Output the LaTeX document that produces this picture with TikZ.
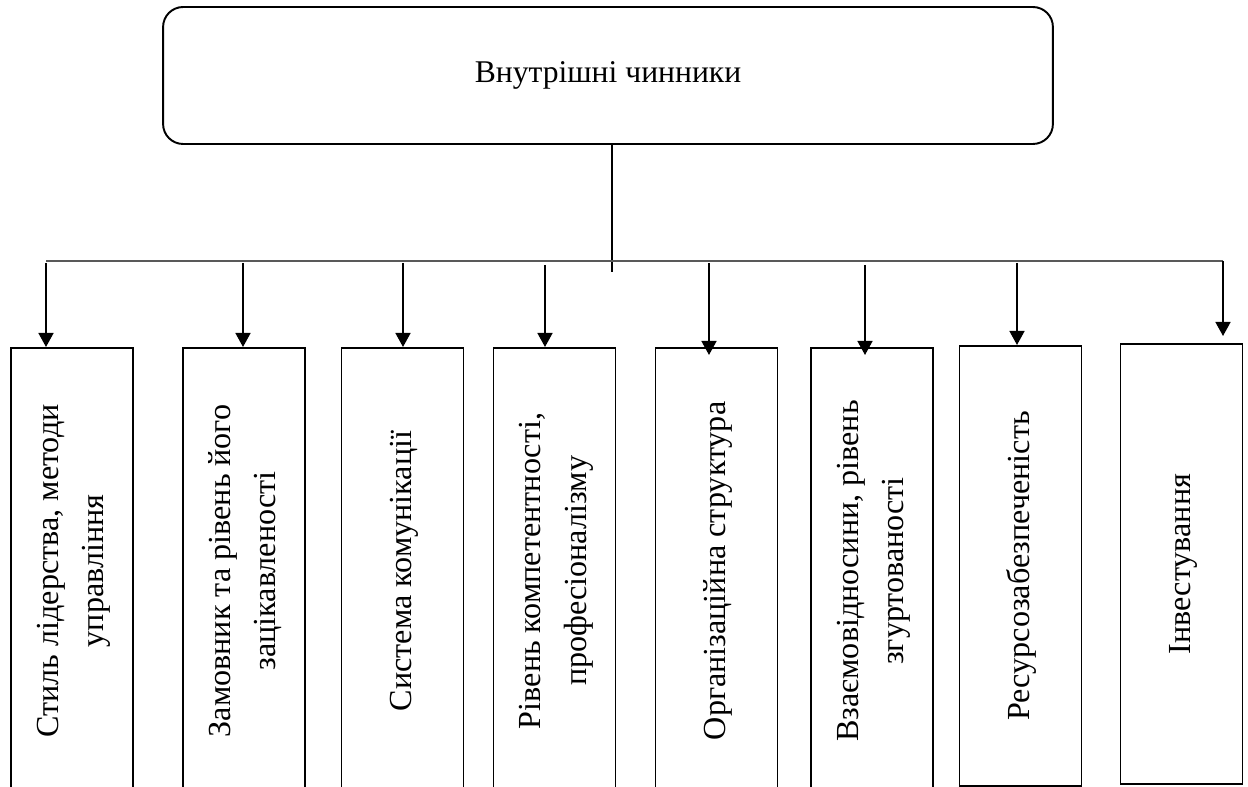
\documentclass[tikz,border=0pt]{standalone}
\usepackage{fontspec}
\setmainfont{Liberation Serif}
\usetikzlibrary{arrows.meta}
\newcommand{\uptext}[1]{\rotatebox{90}{\begin{tabular}{@{}c@{}}#1\end{tabular}}}

\begin{document}
\begin{tikzpicture}[x=0.02cm, y=-0.02cm,
    factor/.style={draw, line width=1.1pt, minimum width=2.44cm, minimum height=8.92cm,
      inner sep=0pt, anchor=north, font=\fontsize{18.3}{26}\selectfont},
    arr/.style={line width=1.1pt, -{Triangle[width=8.5pt,length=8pt]}},
    bus/.style={line width=0.9pt, black!65}]
    \useasboundingbox (0,0) rectangle (1248,787);
    \node [draw, line width=1.1pt, rounded corners=0.4cm, minimum width=17.8cm,
      minimum height=2.74cm, font=\fontsize{18}{22}\selectfont] (top) at (608,75.5) {Внутрішні чинники};
    \node [factor] (f1) at (72,347) {\uptext{Стиль лідерства, методи\\управління}};
    \node [factor] (f2) at (244,347) {\uptext{Замовник та рівень його\\зацікавленості}};
    \node [factor] (f3) at (402.5,347) {\uptext{Система комунікації}};
    \node [factor] (f4) at (554.5,347) {\uptext{Рівень компетентності,\\професіоналізму}};
    \node [factor] (f5) at (716.5,347) {\uptext{Організаційна структура}};
    \node [factor] (f6) at (872,347) {\uptext{Взаємовідносини, рівень\\згуртованості}};
    \node [factor, minimum height=8.8cm] (f7) at (1020.5,345) {\uptext{Ресурсозабезпеченість}};
    \node [factor, minimum height=8.8cm] (f8) at (1181.5,343) {\uptext{Інвестування}};
    % bus
    \coordinate (hub) at (612,272);
    \coordinate (bl) at (46,261);
    \coordinate (br) at (1223,261);
    \draw [line width=0.6pt] (top.south -| hub) -- (hub);
    \draw [bus] (bl) -- (br);
    % arrows
    \coordinate (a1) at (46,263);
    \coordinate (a2) at (243,263);
    \coordinate (a3) at (403,263);
    \coordinate (a4) at (545,265);
    \coordinate (a5) at (709,263);
    \coordinate (a6) at (865,265);
    \coordinate (a7) at (1017,263);
    \draw [arr] (a1) -- (a1 |- f1.north);
    \draw [arr] (a2) -- (a2 |- f2.north);
    \draw [arr] (a3) -- (a3 |- f3.north);
    \draw [arr] (a4) -- (a4 |- f4.north);
    \draw [arr, shorten >=-0.16cm] (a5) -- (a5 |- f5.north);
    \draw [arr, shorten >=-0.16cm] (a6) -- (a6 |- f6.north);
    \draw [arr] (a7) -- (a7 |- f7.north);
    \draw [arr, shorten >=0.14cm] (br) -- (br |- f8.north);
\end{tikzpicture}
\end{document}
